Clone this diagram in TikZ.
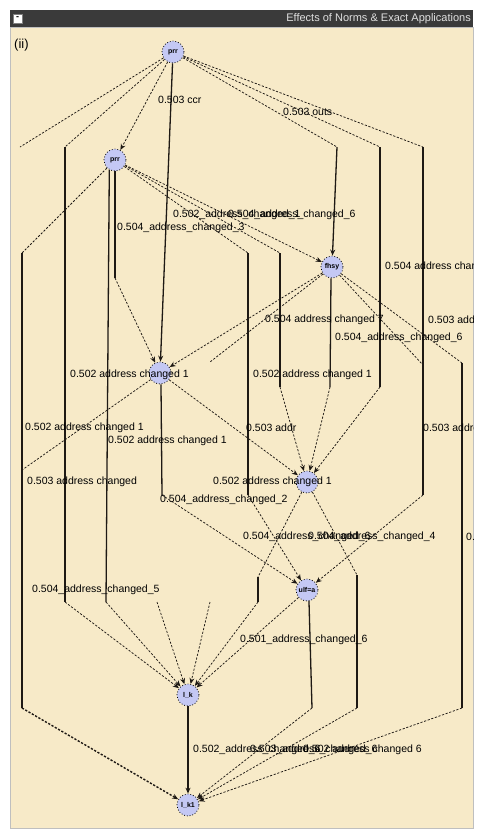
\documentclass[tikz,border=0pt]{standalone}
\usepackage{fontspec}
\setmainfont{Liberation Sans}
\usetikzlibrary{arrows.meta}

\definecolor{panelbg}{RGB}{247,234,200}
\definecolor{nodefill}{RGB}{196,200,244}
\definecolor{titlebar}{RGB}{58,58,58}
\definecolor{edgecol}{RGB}{30,25,20}

\tikzset{
  vnode/.style={circle, minimum size=22pt, inner sep=0pt, fill=nodefill,
    draw=black, dotted, line width=0.8pt, font=\fontsize{7}{8}\selectfont\bfseries},
  dia/.style={draw=edgecol, dash pattern=on 2.2pt off 1.6pt, line width=0.75pt},
  vert/.style={draw=edgecol, line width=1.3pt},
  tip/.style={-{Stealth[length=6pt,width=5pt]}},
  elabel/.style={anchor=west, inner sep=0pt, font=\fontsize{10.5}{12}\selectfont, text=black},
}

% routed edge: diagonal out of the source, vertical run, diagonal into the target
\newcommand{\elbow}[4]{%
  \draw[dia] (#1) -- (#2);
  \draw[vert] (#2) -- (#3);
  \draw[dia,tip] (#3) -- (#4);}

\begin{document}
\begin{tikzpicture}[x=1pt,y=-1pt]
\useasboundingbox (0,0) rectangle (478,831);
\fill[white] (0,0) rectangle (478,831);

% window frame
\fill[panelbg] (10,27) rectangle (473,828);
\draw[black!25, line width=0.6pt] (10,27) rectangle (473,828);
\fill[titlebar] (10,10) rectangle (473,27);
\node[fill=white, draw=black!50, minimum size=9pt, inner sep=0pt, font=\fontsize{9}{9}\selectfont\bfseries] (btn) at (17.5,18.5) {-};
\node[anchor=east, inner sep=0pt, text=black!12, font=\fontsize{11}{12}\selectfont] (title) at (471,18.5) {Effects of Norms \& Exact Applications};
\node[anchor=west, inner sep=0pt, font=\fontsize{13}{14}\selectfont] (tag) at (14,45) {(ii)};

% vertices
\node[vnode] (N1) at (173,52) {prr};
\node[vnode] (N2) at (115,160) {prr};
\node[vnode] (N3) at (332,267) {fhsy};
\node[vnode] (N4) at (160,373) {};
\node[vnode] (N5) at (307,482) {};
\node[vnode] (N6) at (307,590) {ulf=a};
\node[vnode] (N7) at (188,695) {l\_k};
\node[vnode] (N8) at (188,805) {l\_k1};

% bend points
\coordinate (a1)  at (20,147);
\coordinate (a2t) at (65,147);   \coordinate (a2b) at (65,602);
\coordinate (a5t) at (337,147);
\coordinate (a6t) at (380,147);  \coordinate (a6b) at (380,387);
\coordinate (a7t) at (423,147);  \coordinate (a7b) at (423,495);
\coordinate (b8t) at (22,253);   \coordinate (b8b) at (22,708);
\coordinate (b9b) at (106,602);
\coordinate (b10b) at (115,278);
\coordinate (b11t) at (248,253); \coordinate (b11b) at (248,495);
\coordinate (b12t) at (280,253); \coordinate (b12b) at (280,387);
\coordinate (c15) at (210,362);
\coordinate (c16b) at (330,387);
\coordinate (c17) at (423,365);
\coordinate (c18t) at (462,363); \coordinate (c18b) at (462,708);
\coordinate (d19) at (22,470);
\coordinate (d20b) at (162,495);
\coordinate (e22t) at (258,577); \coordinate (e22b) at (258,602);
\coordinate (e23t) at (357,575); \coordinate (e23b) at (357,708);
\coordinate (f25b) at (312,708);
\coordinate (g27) at (157,602);
\coordinate (g28) at (210,602);

% edges leaving the top vertex
\draw[dia] (N1) -- (a1);
\elbow{N1}{a2t}{a2b}{N7}
\draw[dia,tip] (N1) -- (N2);
\draw[vert,tip] (N1) -- (N4);
\draw[dia] (N1) -- (a5t);
\draw[vert,tip] (a5t) -- (N3);
\elbow{N1}{a6t}{a6b}{N5}
\elbow{N1}{a7t}{a7b}{N6}

% edges leaving the second vertex
\draw[dia] (N2) -- (b8t);
\draw[vert] (b8t) -- (b8b);
\draw[dia,tip,line width=1.4pt] (b8b) -- (N8);
\draw[vert] (N2.240) -- (b9b);
\draw[dia,tip] (b9b) -- (N7);
\draw[vert] (N2.270) -- (b10b);
\draw[dia,tip] (b10b) -- (N4);
\elbow{N2}{b11t}{b11b}{N6}
\elbow{N2}{b12t}{b12b}{N5}
\draw[dia,tip] (N2) -- (N3);

% edges leaving the third vertex
\draw[dia,tip] (N3) -- (N4);
\draw[dia] (N3) -- (c15);
\draw[vert] (N3.265) -- (c16b);
\draw[dia,tip] (c16b) -- (N5);
\draw[dia] (N3) -- (c17);
\elbow{N3}{c18t}{c18b}{N8}

% edges leaving the fourth vertex
\draw[dia] (N4) -- (d19);
\draw[vert] (N4.275) -- (d20b);
\draw[dia,tip] (d20b) -- (N6);
\draw[dia,tip] (N4) -- (N5);

% edges leaving the lower vertices
\elbow{N5}{e22t}{e22b}{N7}
\elbow{N5}{e23t}{e23b}{N8}
\draw[dia,tip] (N6) -- (N7);
\draw[vert] (N6.280) -- (f25b);
\draw[dia,tip] (f25b) -- (N8);
\draw[vert,tip] (N7) -- (N8);
\draw[dia,tip] (g27) -- (N7);
\draw[dia,tip] (g28) -- (N7);

% edge labels, cut off at the panel border
\begin{scope}
\clip (10,27) rectangle (473,828);
\node[elabel] (l1)  at (158,100) {0.503 ccr};
\node[elabel] (l2)  at (283,112) {0.503 outs};
\node[elabel] (l3)  at (173,215) {0.502\_address\_changed\_1};
\node[elabel] (l4)  at (228,215) {0.504\_address\_changed\_6};
\node[elabel] (l5)  at (117,228) {0.504\_address\_changed\_3};
\node[elabel] (l6)  at (385,267) {0.504 address changed 8};
\node[elabel] (l7)  at (265,320) {0.504 address changed 7};
\node[elabel] (l8)  at (428,320) {0.503 address};
\node[elabel] (l9)  at (335,338) {0.504\_address\_changed\_6};
\node[elabel] (l10) at (70,375)  {0.502 address changed 1};
\node[elabel] (l11) at (253,375) {0.502 address changed 1};
\node[elabel] (l12) at (25,428)  {0.502 address changed 1};
\node[elabel] (l13) at (246,428) {0.503 addr};
\node[elabel] (l14) at (423,428) {0.503 address};
\node[elabel] (l15) at (108,441) {0.502 address changed 1};
\node[elabel] (l16) at (27,482)  {0.503 address changed};
\node[elabel] (l17) at (213,482) {0.502 address changed 1};
\node[elabel] (l18) at (160,500) {0.504\_address\_changed\_2};
\node[elabel] (l19) at (243,537) {0.504\_address\_changed\_6};
\node[elabel] (l20) at (308,537) {0.504\_address\_changed\_4};
\node[elabel] (l21) at (466,537) {0.504 address};
\node[elabel] (l22) at (32,590)  {0.504\_address\_changed\_5};
\node[elabel] (l23) at (240,640) {0.501\_address\_changed\_6};
\node[elabel] (l24) at (193,750) {0.502\_address\_changed\_6};
\node[elabel] (l25) at (250,750) {0.503\_address\_changed\_6};
\node[elabel] (l26) at (303,750) {0.502 address changed 6};
\end{scope}
\end{tikzpicture}
\end{document}
